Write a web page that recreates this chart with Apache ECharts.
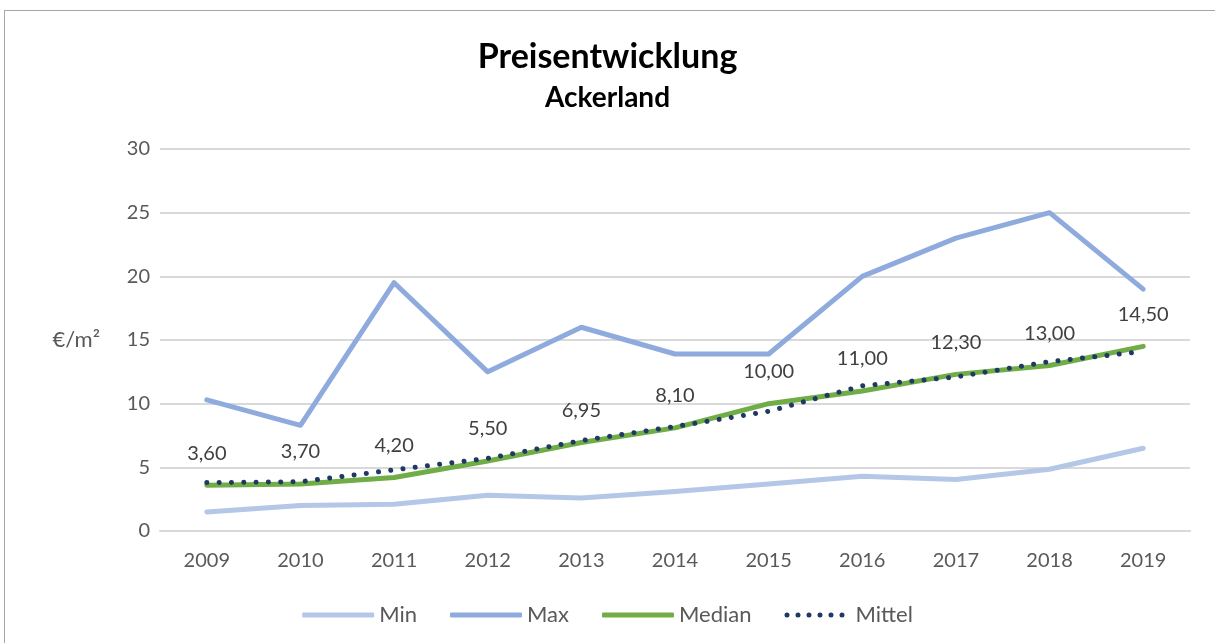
<!DOCTYPE html>
<html>
<head>
<meta charset="utf-8">
<script src="https://cdn.jsdelivr.net/npm/echarts@6/dist/echarts.min.js"></script>
<style>
  html, body { margin: 0; padding: 0; background: #fff; }
  #main { width: 1215px; height: 643px; position: relative; }
  #frame { position: absolute; left: 4px; top: 10px; width: 1240px; height: 700px; border: 1px solid #a6a6a6; pointer-events: none; }
</style>
</head>
<body>
<div id="main"></div>
<div id="frame"></div>
<script>
var years = ['2009', '2010', '2011', '2012', '2013', '2014', '2015', '2016', '2017', '2018', '2019'];
var minVals = [1.5, 2.0, 2.1, 2.8, 2.6, 3.1, 3.7, 4.3, 4.05, 4.85, 6.5];
var maxVals = [10.3, 8.3, 19.5, 12.5, 16.0, 13.9, 13.9, 20.0, 23.0, 25.0, 19.0];
var medianVals = [3.6, 3.7, 4.2, 5.5, 6.95, 8.1, 10.0, 11.0, 12.3, 13.0, 14.5];
var mittelVals = [3.8, 3.87, 4.8, 5.7, 7.1, 8.2, 9.4, 11.4, 12.1, 13.3, 14.1];

var font = 'Lato, "Open Sans", sans-serif';
var chart = echarts.init(document.getElementById('main'));

// dotted legend icon for "Mittel" (6 round dots)
var dots = '';
for (var i = 0; i < 6; i++) {
  var x = i * 11;
  dots += 'M' + x + ',2.5a2.5,2.5 0 1,0 5,0a2.5,2.5 0 1,0 -5,0';
}

var option = {
  animation: false,
  backgroundColor: '#fff',
  title: {
    text: 'Preisentwicklung',
    subtext: 'Ackerland',
    left: 'center',
    top: 35,
    itemGap: 10,
    textStyle: { fontFamily: font, fontWeight: 'bold', fontSize: 34, color: '#000' },
    subtextStyle: { fontFamily: font, fontWeight: 'bold', fontSize: 28, color: '#000' }
  },
  legend: {
    bottom: 12,
    left: 'center',
    itemWidth: 72,
    itemHeight: 5,
    itemGap: 33,
    textStyle: { fontFamily: font, fontSize: 22, color: '#595959' },
    data: [
      { name: 'Min', icon: 'roundRect' },
      { name: 'Max', icon: 'roundRect' },
      { name: 'Median', icon: 'roundRect' },
      { name: 'Mittel', icon: 'path://' + dots }
    ]
  },
  grid: { left: 160, right: 25, top: 149, bottom: 112 },
  xAxis: {
    type: 'category',
    data: years,
    boundaryGap: true,
    axisLine: { show: true, lineStyle: { color: '#d9d9d9', width: 2 } },
    axisTick: { show: false },
    axisLabel: { fontFamily: font, fontSize: 20, color: '#595959', margin: 20 }
  },
  yAxis: {
    type: 'value',
    min: 0,
    max: 30,
    interval: 5,
    name: '€/m²',
    nameLocation: 'middle',
    nameRotate: 0,
    nameGap: 60,
    nameTextStyle: { fontFamily: font, fontSize: 22, color: '#595959' },
    axisLine: { show: false },
    axisTick: { show: false },
    axisLabel: { fontFamily: font, fontSize: 20, color: '#595959', margin: 10 },
    splitLine: { lineStyle: { color: '#d9d9d9', width: 2 } }
  },
  series: [
    {
      name: 'Min', type: 'line', data: minVals, symbol: 'none',
      itemStyle: { color: '#b4c7e7' },
      lineStyle: { color: '#b4c7e7', width: 5, cap: 'round', join: 'round' }
    },
    {
      name: 'Max', type: 'line', data: maxVals, symbol: 'none',
      itemStyle: { color: '#8faadc' },
      lineStyle: { color: '#8faadc', width: 5, cap: 'round', join: 'round' }
    },
    {
      name: 'Median', type: 'line', data: medianVals,
      symbol: 'circle', symbolSize: 0, showSymbol: true,
      itemStyle: { color: '#70ad47' },
      lineStyle: { color: '#70ad47', width: 5, cap: 'round', join: 'round' },
      label: {
        show: true, position: 'top', distance: 22,
        fontFamily: font, fontSize: 20, color: '#404040',
        formatter: function (p) { return p.value.toFixed(2).replace('.', ','); }
      }
    },
    {
      name: 'Mittel', type: 'line', data: mittelVals, symbol: 'none',
      itemStyle: { color: '#203864' },
      lineStyle: { color: '#203864', width: 5, type: [0.01, 12.3], cap: 'round', join: 'round' }
    }
  ]
};

option && chart.setOption(option);
</script>
</body>
</html>
